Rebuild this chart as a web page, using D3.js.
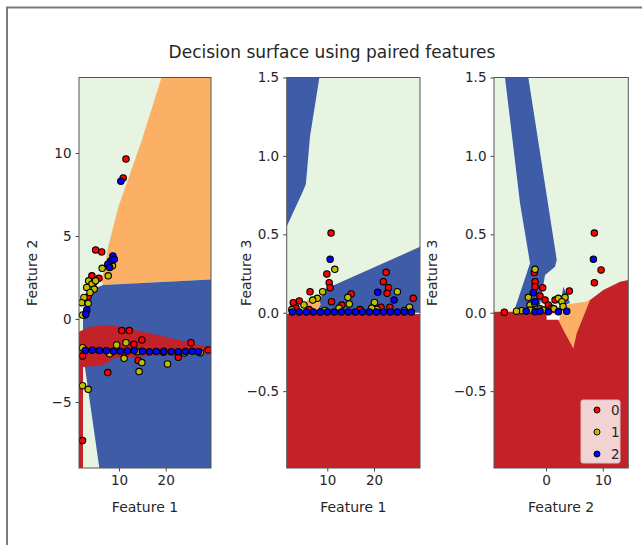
<!DOCTYPE html>
<html><head><meta charset="utf-8">
<script src="https://cdn.jsdelivr.net/npm/d3@7"></script>
<style>
html,body{margin:0;padding:0;background:#fff;}
svg text{font-family:"DejaVu Sans",sans-serif;fill:#262626;}
</style></head>
<body><svg id="c" width="642" height="545"></svg>
<script>
// ---------------- DATA ----------------
const title = "Decision surface using paired features";
const classLabels = ["0", "1", "2"];
const pointColors = ["#ff0000", "#bfbf00", "#0000ff"];
const regionColors = {red: "#c22228", orange: "#fbb066", pale: "#e8f4e2", blue: "#3e5ca7", white: "#ffffff"};

// panel 1: Feature 1 vs Feature 2
const p1XDomain = [1.44, 29.7], p1YDomain = [-8.98, 14.55];
const p1XTicks = [10, 20], p1YTicks = [-5, 0, 5, 10];
const p1Orange = [[19.1,14.55],[14.9,10.78],[9.9,6.77],[7.7,4.36],[6.9,3.15],[6.3,2.35],[6.6,2.05],[29.7,2.38],[29.7,14.55]];
const p1Blue = [[6.6,2.05],[29.7,2.38],[29.7,-8.98],[2.3,-8.98],[2.3,0.2],[2.8,1.2],[4.5,1.8]];
const p1Red = [[1.44,-0.77],[3.7,-0.48],[7.3,-0.36],[11,-0.5],[16.6,-0.86],[24.5,-1.37],[29.7,-1.77],[29.7,-2.07],[20.1,-2.17],[8.8,-2.37],[7.4,-2.67],[5.9,-2.83],[3.1,-2.87],[2.3,-2.89],[2.3,-8.98],[1.44,-8.98]];
const p1PaleWedge = [[2.3,-2.89],[2.7,-2.89],[5.8,-8.98],[2.3,-8.98]];
const p1Class0 = [[11.5,9.64],[10.9,8.5],[5.0,4.16],[6.3,4.04],[4.2,2.6],[5.7,2.45],[3.4,1.34],[4.6,2.2],[10.6,-0.70],[12.2,-0.70],[14.9,-1.26],[13.2,-1.53],[25.4,-1.43],[2.2,-2.23],[29.1,-1.87],[14.1,-2.5],[22.7,-2.31],[7.6,-3.23],[2.2,-7.33]];
const p1Class1 = [[6.4,3.05],[7.7,2.6],[8.6,3.2],[3.5,2.3],[4.2,2.1],[5.0,2.3],[3.1,1.9],[4.7,1.8],[3.8,1.6],[2.5,1.3],[2.0,0.98],[3.4,0.94],[2.7,0.24],[2.2,0.24],[9.5,-1.57],[11.5,-1.43],[13.8,-1.97],[19.5,-2.0],[27.4,-2.03],[2.2,-1.73],[11.1,-2.37],[14.9,-2.63],[20.4,-2.71],[14.3,-3.17],[2.2,-4.02],[3.4,-4.24],[8.0,-2.1],[24,-2.05]];
const p1Class2 = [[10.4,8.3],[8.7,3.8],[8.2,3.5],[7.6,3.3],[9.0,3.6],[8.0,3.1],[3.1,0.54],[2.9,0.3],[2.8,-1.9],[4.3,-1.88],[5.8,-1.9],[7.3,-1.92],[8.8,-1.95],[10.3,-1.95],[11.8,-1.93],[13.3,-1.9],[15.0,-1.95],[16.5,-1.98],[18.0,-1.96],[19.6,-1.95],[21.2,-1.97],[22.7,-1.98],[24.2,-1.96],[25.7,-1.95],[27.0,-1.97]];

// panel 2: Feature 1 vs Feature 3
const p2XDomain = [1.3, 29.85], p2YDomain = [-0.99, 1.5];
const p2XTicks = [10, 20], p2YTicks = [-0.5, 0.0, 0.5, 1.0, 1.5];
const p2BlueTop = [[1.3,1.5],[8.3,1.5],[6.3,1.125],[5.4,0.82],[4.85,0.78],[1.3,0.55]];
const p2BlueLow = [[29.85,0.42],[9.1,0.145],[8.3,0.06],[8.0,0.0],[29.85,0.0]];
const p2Orange = [[5.0,0.04],[5.8,0.085],[7.2,0.1],[8.3,0.09],[8.6,0.05],[7.8,0.02],[6.5,0.025],[5.5,0.02]];
const p2Red = [[1.3,-0.008],[29.85,-0.008],[29.85,-0.99],[1.3,-0.99]];
const p2Class0 = [[10.8,0.508],[9.9,0.247],[10.4,0.192],[10.6,0.16],[6.3,0.134],[4.0,0.075],[2.7,0.064],[22.6,0.258],[22.0,0.198],[23.1,0.16],[22.8,0.124],[28.4,0.092],[15.1,0.12],[13.1,0.049],[21.5,0.035],[23.4,0.035],[10.9,0.07],[3.3,0.03],[6.1,0.02],[17,0.02]];
const p2Class1 = [[11.6,0.277],[9.0,0.134],[7.85,0.092],[6.87,0.081],[14.4,0.098],[14.7,0.056],[20.1,0.066],[20.6,0.022],[25,0.134],[27.6,0.035],[2.4,0.02],[12.5,0.03],[19.5,0.03],[26.5,0.015],[9.5,0.015],[5,0.05]];
const p2Class2 = [[10.6,0.341],[20.8,0.13],[24.3,0.081],[2.5,0.005],[4.0,0.005],[5.5,0.005],[7.0,0.005],[8.5,0.005],[10,0.005],[11.5,0.005],[13,0.005],[14.5,0.005],[16,0.005],[17.5,0.005],[19,0.005],[20.5,0.005],[22,0.005],[23.5,0.005],[25,0.005],[26.5,0.005],[28,0.005]];

// panel 3: Feature 2 vs Feature 3
const p3XDomain = [-9.17, 14.5], p3YDomain = [-0.99, 1.5];
const p3XTicks = [0, 10], p3YTicks = [-0.5, 0.0, 0.5, 1.0, 1.5];
const p3Red = [[-9.17,0.006],[4.0,0.006],[4.81,0.017],[7.76,0.081],[10.1,0.145],[13.05,0.198],[14.5,0.209],[14.5,-0.99],[-9.17,-0.99]];
const p3Orange = [[1.29,0.017],[2.5,0.045],[5,0.06],[7.0,0.07],[7.76,0.081],[6.58,-0.026],[5.41,-0.13],[4.81,-0.228],[3.05,-0.11]];
const p3White = [[0.1,-0.004],[2.4,-0.004],[2.4,-0.045],[0.1,-0.045]];
const p3Blue = [[-7.23,1.5],[-4.59,0.70],[-2.82,0.316],[-5.17,0.06],[-5.47,0.028],[-3.7,0.017],[-1.06,0.05],[-0.18,0.24],[1.59,0.294],[1.89,0.337],[-3.12,1.5]];
const p3BlueSmall = [[3.05,0.166],[4.23,0.062],[2.47,0.038]];
const p3Class0 = [[8.52,0.508],[9.7,0.273],[8.52,0.192],[-7.35,0.003],[-2.06,0.256],[-1.94,0.198],[-1.94,0.166],[-1.06,0.107],[-0.59,0.16],[-0.18,0.081],[1.59,0.081],[4.11,0.139],[0.41,0.049],[-2.5,0.03],[1.0,0.03]];
const p3Class1 = [[-1.94,0.277],[-3.12,0.098],[-2.82,0.049],[-4.29,0.013],[-2.82,0.017],[-1.06,0.025],[2.17,0.092],[3.35,0.098],[2.8,0.07],[1.4,0.025],[-0.47,0.017],[-5.2,0.01],[3.0,0.04],[-2.0,0.06]];
const p3Class2 = [[8.35,0.341],[-2.24,0.128],[-1.94,0.07],[-1.94,0.006],[0.41,0.006],[2.17,0.006],[3.65,0.01],[-1.06,0.01],[-3.5,0.01]];

// ---------------- DRAW ----------------
const svg = d3.select("#c");
svg.append("path").attr("d","M7,545 V7.5 H642").attr("fill","none").attr("stroke","#7a7a7a").attr("stroke-width",2);

svg.append("text").attr("x",332).attr("y",58).attr("text-anchor","middle")
  .style("font-size","17px").text(title);

const yTop = 77.5, yBottom = 468;
const fInt = d3.format("d"), fOne = d3.format(".1f");
const panels = [
  {x0:79, x1:211, xd:p1XDomain, yd:p1YDomain, xt:p1XTicks, yt:p1YTicks, xl:"Feature 1", yl:"Feature 2", ylx:37,
   regions:[[p1Orange,"orange"],[p1Blue,"blue"],[p1Red,"red"],[p1PaleWedge,"pale"]],
   pts:[p1Class0,p1Class1,p1Class2], xf:fInt, yf:fInt},
  {x0:286.7, x1:420, xd:p2XDomain, yd:p2YDomain, xt:p2XTicks, yt:p2YTicks, xl:"Feature 1", yl:"Feature 3", ylx:251,
   regions:[[p2BlueTop,"blue"],[p2BlueLow,"blue"],[p2Orange,"orange"],[p2Red,"red"]],
   pts:[p2Class0,p2Class1,p2Class2], xf:fInt, yf:fOne},
  {x0:494, x1:628.3, xd:p3XDomain, yd:p3YDomain, xt:p3XTicks, yt:p3YTicks, xl:"Feature 2", yl:"Feature 3", ylx:437,
   regions:[[p3Blue,"blue"],[p3BlueSmall,"blue"],[p3Red,"red"],[p3Orange,"orange"],[p3White,"white"]],
   pts:[p3Class0,p3Class1,p3Class2], xf:fInt, yf:fOne, legend:true}
];

const minus = s => s.replace("-", "\u2212");

panels.forEach((p,i) => {
  const x = d3.scaleLinear().domain(p.xd).range([p.x0,p.x1]);
  const y = d3.scaleLinear().domain(p.yd).range([yBottom,yTop]);
  const g = svg.append("g");
  const clipId = "clip"+i;
  svg.append("clipPath").attr("id",clipId).append("rect")
     .attr("x",p.x0).attr("y",yTop).attr("width",p.x1-p.x0).attr("height",yBottom-yTop);
  const plot = g.append("g").attr("clip-path",`url(#${clipId})`);
  plot.append("rect").attr("x",p.x0).attr("y",yTop).attr("width",p.x1-p.x0).attr("height",yBottom-yTop)
      .attr("fill",regionColors.pale);
  const line = d3.line().x(d=>x(d[0])).y(d=>y(d[1])).curve(d3.curveLinearClosed);
  p.regions.forEach(([poly,c]) => {
    plot.append("path").attr("d",line(poly)).attr("fill",regionColors[c]);
  });
  p.pts.forEach((arr,ci) => {
    plot.selectAll(null).data(arr).enter().append("circle")
      .attr("cx",d=>x(d[0])).attr("cy",d=>y(d[1])).attr("r",3.2)
      .attr("fill",pointColors[ci]).attr("stroke","#000").attr("stroke-width",1.1);
  });
  const ax = g.append("g").attr("transform",`translate(0,${yBottom})`)
     .call(d3.axisBottom(x).tickValues(p.xt).tickSize(3.5).tickPadding(4).tickFormat(d=>minus(p.xf(d))));
  const ay = g.append("g").attr("transform",`translate(${p.x0},0)`)
     .call(d3.axisLeft(y).tickValues(p.yt).tickSize(3.5).tickPadding(4).tickFormat(d=>minus(p.yf(d))));
  [ax,ay].forEach(a=>{ a.select(".domain").remove(); a.selectAll("line").attr("stroke","#444");
    a.selectAll("text").style("font-size","13.5px").style("font-family","DejaVu Sans").attr("fill","#262626"); });
  g.append("rect").attr("x",p.x0).attr("y",yTop).attr("width",p.x1-p.x0).attr("height",yBottom-yTop)
     .attr("fill","none").attr("stroke","#555").attr("stroke-width",1);
  g.append("text").attr("x",(p.x0+p.x1)/2).attr("y",512).attr("text-anchor","middle")
     .style("font-size","14px").text(p.xl);
  g.append("text").attr("transform",`translate(${p.ylx},${(yTop+yBottom)/2}) rotate(-90)`)
     .attr("text-anchor","middle").style("font-size","14px").text(p.yl);

  if (p.legend) {
    const lx0 = 581, ly0 = 400, lw = 39, lh = 63;
    const lg = g.append("g");
    lg.append("rect").attr("x",lx0).attr("y",ly0).attr("width",lw).attr("height",lh).attr("rx",2)
      .attr("fill","#ffffff").attr("fill-opacity",0.8).attr("stroke","#d9c2c2");
    classLabels.forEach((lab,k)=>{
      const cy = ly0 + 10 + k*22;
      lg.append("circle").attr("cx",lx0+16).attr("cy",cy).attr("r",3)
        .attr("fill",pointColors[k]).attr("stroke","#000").attr("stroke-width",1);
      lg.append("text").attr("x",lx0+30).attr("y",cy+5).style("font-size","13.5px").text(lab);
    });
  }
});
</script></body></html>
